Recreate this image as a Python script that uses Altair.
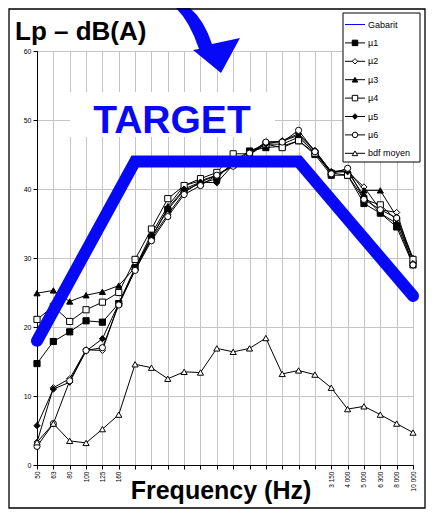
import json
import altair as alt
import pandas as pd

# ---------------- data ----------------
freqs = ["50", "63", "80", "100", "125", "160", "200", "250", "315", "400", "500", "630",
         "800", "1000", "1250", "1600", "2000", "2500", "3 150", "4 000", "5 000", "6 300",
         "8 000", "10 000"]
hidden_labels = ["200", "250", "315", "400", "500", "630", "800", "1000", "1250", "1600",
                 "2000", "2500"]

mu1 = [14.7, 17.9, 19.3, 20.9, 20.7, 23.4, 28.6, 33.0, 37.0, 39.8, 40.8, 41.5,
       44.0, 45.5, 46.0, 46.2, 47.0, 45.0, 42.0, 42.0, 37.9, 36.5, 34.5, 29.0]
mu2 = [3.3, 11.2, 12.5, 16.7, 16.6, 23.4, 28.3, 32.8, 36.3, 39.5, 41.0, 42.0,
       43.5, 45.0, 46.5, 46.5, 47.5, 45.3, 42.5, 42.5, 40.3, 37.0, 36.6, 29.5]
mu3 = [24.9, 25.3, 23.7, 24.6, 25.1, 26.0, 28.6, 33.5, 37.5, 40.5, 41.2, 42.0,
       43.5, 45.0, 46.8, 46.9, 47.8, 45.5, 42.5, 42.8, 39.8, 39.8, 36.0, 30.0]
mu4 = [21.1, 23.0, 20.8, 22.5, 23.6, 25.0, 29.8, 34.2, 38.6, 40.5, 41.5, 42.4,
       45.1, 45.1, 46.5, 46.0, 47.0, 45.2, 42.3, 42.0, 38.5, 37.7, 35.5, 29.8]
mu5 = [5.7, 11.0, 12.0, 16.5, 18.3, 23.4, 28.4, 33.0, 37.2, 40.0, 41.0, 40.9,
       43.5, 45.5, 46.5, 47.0, 48.0, 45.6, 42.5, 42.5, 39.0, 36.5, 35.0, 29.2]
mu6 = [2.7, 6.0, 12.2, 16.6, 17.0, 23.2, 28.2, 32.5, 36.0, 39.2, 40.5, 42.0,
       43.3, 45.2, 46.8, 46.8, 48.5, 45.4, 42.2, 43.0, 38.5, 37.0, 35.8, 29.0]
bdf_moyen = [3.3, 6.0, 3.5, 3.2, 5.2, 7.3, 14.6, 14.1, 12.5, 13.5, 13.4, 16.9,
             16.4, 16.9, 18.4, 13.2, 13.7, 13.1, 11.2, 8.1, 8.5, 7.3, 6.0, 4.7]

gabarit_freqs = ["50", "200", "2000", "10 000"]
gabarit_vals = [18, 44, 44, 24.5]

series_names = ["µ1", "µ2", "µ3", "µ4", "µ5", "µ6", "bdf moyen"]
series_values = [mu1, mu2, mu3, mu4, mu5, mu6, bdf_moyen]
legend_names = ["Gabarit"] + series_names

# ---------------- styles ----------------
series_shapes = ["square", "diamond", "triangle-up", "square", "diamond", "circle", "triangle-up"]
series_fills = ["black", "white", "black", "white", "black", "white", "white"]
BLUE = "#0808f8"
FONT = "Liberation Sans"
W, H = 376, 414

rows = []
for name, vals in zip(series_names, series_values):
    for i, (f, v) in enumerate(zip(freqs, vals)):
        rows.append({"series": name, "freq": f, "idx": i, "value": v})
df = pd.DataFrame(rows)

gab_df = pd.DataFrame({"freq": gabarit_freqs, "value": gabarit_vals,
                       "idx": [freqs.index(f) for f in gabarit_freqs]})

leg_df = pd.DataFrame({"series": legend_names, "lidx": list(range(len(legend_names)))})

label_expr = "indexof(%s, datum.value) >= 0 ? '' : datum.value" % json.dumps(hidden_labels)

x_axis = alt.Axis(title=None, labelAngle=270, labelFont=FONT, labelFontSize=6.5,
                  labelColor="black", labelPadding=2, tickSize=4, tickColor="black",
                  domainColor="black", gridColor="#c4c4c4", grid=True,
                  labelExpr=label_expr, labelOverlap=False)
y_axis = alt.Axis(title=None, values=[0, 10, 20, 30, 40, 50, 60], labelFont=FONT,
                  labelFontSize=7, labelColor="black", labelPadding=2, tickSize=4,
                  tickColor="black", domainColor="black", gridColor="#c4c4c4", grid=True)

X = alt.X("freq:O", scale=alt.Scale(type="point", domain=freqs, padding=0), sort=freqs, axis=x_axis)
Y = alt.Y("value:Q", scale=alt.Scale(domain=[0, 60], nice=False, zero=True), axis=y_axis)

shape_scale = alt.Scale(domain=series_names, range=series_shapes)
fill_scale = alt.Scale(domain=series_names, range=series_fills)

one = pd.DataFrame({"a": [0]})

target_box = alt.Chart(one).mark_rect(fill="white").encode(
    x=alt.value(33), x2=alt.value(238), y=alt.value(41), y2=alt.value(86))

lines = alt.Chart(df).mark_line(color="black", strokeWidth=1).encode(
    x=X, y=Y, detail="series:N", order="idx:Q")

points = alt.Chart(df).mark_point(filled=True, stroke="black", strokeWidth=1, size=38, opacity=1).encode(
    x=X, y=Y,
    shape=alt.Shape("series:N", scale=shape_scale, legend=None),
    fill=alt.Fill("series:N", scale=fill_scale, legend=None))

gabarit = alt.Chart(gab_df).mark_line(color=BLUE, strokeWidth=12, strokeCap="round",
                                      strokeJoin="miter").encode(x=X, y=Y, order="idx:Q")

leg_box = alt.Chart(one).mark_rect(fill="white", stroke="black", strokeWidth=1).encode(
    x=alt.value(306), x2=alt.value(383), y=alt.value(-38), y2=alt.value(111))

LY = alt.Y("py:Q", scale=None, axis=None)
leg_base = alt.Chart(leg_df).transform_calculate(py="-26.5 + 18.4 * datum.lidx")

leg_rules = leg_base.mark_rule(strokeWidth=1).encode(
    x=alt.value(308), x2=alt.value(328), y=LY,
    color=alt.condition(alt.datum.series == "Gabarit", alt.value(BLUE), alt.value("black")))

leg_points = leg_base.transform_filter(alt.datum.series != "Gabarit").mark_point(
    filled=True, stroke="black", strokeWidth=1, size=30, opacity=1).encode(
    x=alt.value(318), y=LY,
    shape=alt.Shape("series:N", scale=shape_scale, legend=None),
    fill=alt.Fill("series:N", scale=fill_scale, legend=None))

leg_text = leg_base.mark_text(align="left", baseline="middle", font=FONT, fontSize=9,
                              color="black").encode(x=alt.value(331), y=LY, text="series:N")

title_lp = alt.Chart(one).mark_text(text="Lp – dB(A)", align="left", baseline="alphabetic",
                                    font=FONT, fontSize=26, fontWeight="bold", color="black").encode(
    x=alt.value(-22), y=alt.value(-11))

target = alt.Chart(one).mark_text(text="TARGET", align="center", baseline="alphabetic",
                                  font=FONT, fontSize=39, fontWeight="bold", color=BLUE).encode(
    x=alt.value(135), y=alt.value(82))

freq_title = alt.Chart(one).mark_text(text="Frequency (Hz)", align="center", baseline="alphabetic",
                                      font=FONT, fontSize=25, fontWeight="bold", color="black").encode(
    x=alt.value(184), y=alt.value(448))

arrow_path = ("M -0.8 -0.8 Q -0.45 -0.45 -0.225 0.225 L -0.375 0.25 L 0.325 0.825 "
              "L 0.8 -0.05 L 0.1 0.1 Q -0.1 -0.5 -0.45 -0.8 Z")
arrow = alt.Chart(one).mark_point(shape=arrow_path, size=6400, filled=True, color=BLUE,
                                  opacity=1, strokeWidth=0).encode(
    x=alt.value(171), y=alt.value(-11))

frame = alt.Chart(one).mark_rect(fillOpacity=0, stroke="black", strokeWidth=1.3).encode(
    x=alt.value(-28), x2=alt.value(388), y=alt.value(-42), y2=alt.value(457))

chart = alt.layer(
    target_box, lines, points, gabarit, leg_box, leg_rules, leg_points, leg_text,
    title_lp, target, freq_title, arrow, frame
).properties(
    width=W, height=H,
    padding={"left": 29, "top": 43, "right": 14, "bottom": 44},
    autosize=alt.AutoSizeParams(type="none"),
    background="white",
).configure_view(stroke="black", strokeWidth=1)

chart.save("out.html", embed_options={"renderer": "svg", "actions": False})
